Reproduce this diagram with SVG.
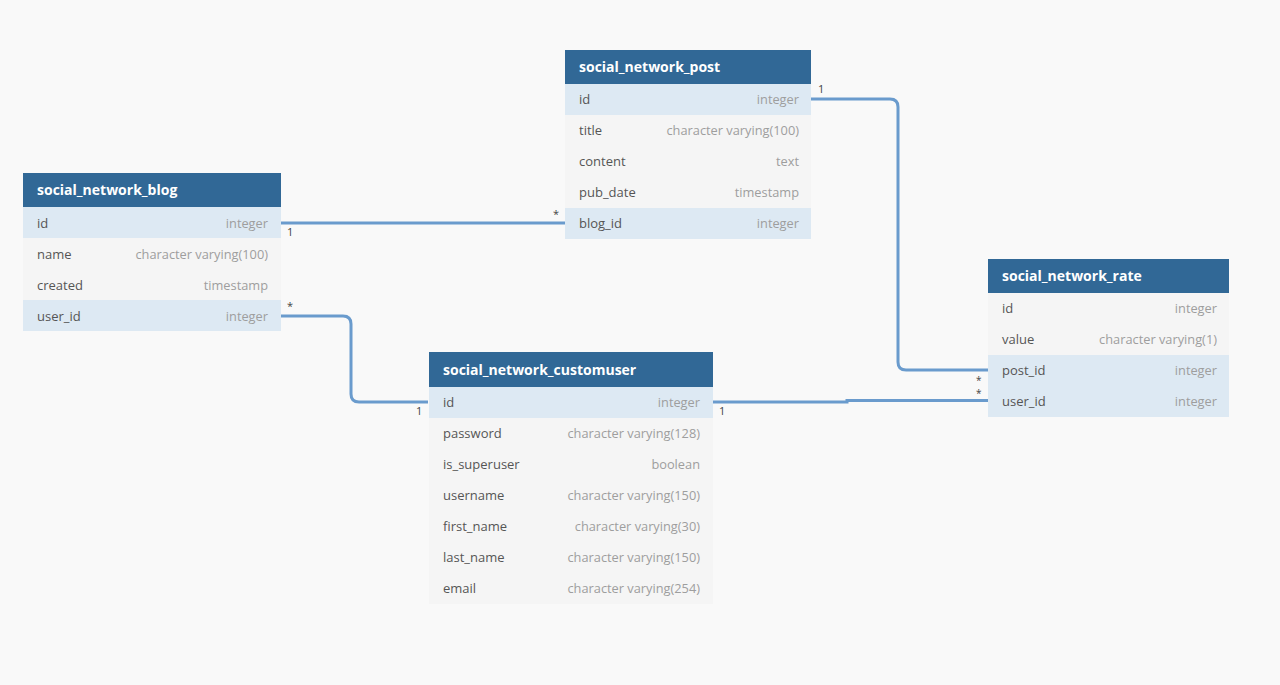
<svg xmlns="http://www.w3.org/2000/svg" width="1280" height="685" viewBox="0 0 1280 685">
<style>
.bg{fill:#f9f9f9}
.hdr{fill:#316896}
.row{fill:#f5f5f5}
.key{fill:#dde9f3}
.ht{font-family:"Open Sans","Liberation Sans",sans-serif;font-size:14px;font-weight:bold;fill:#ffffff}
.fn{font-family:"Open Sans","Liberation Sans",sans-serif;font-size:13px;fill:#555555}
.ft{font-family:"Open Sans","Liberation Sans",sans-serif;font-size:12.8px;fill:#9e9e9e;text-anchor:end}
.ln{fill:none;stroke:#6a9bcd;stroke-width:3}
.lb{font-family:"Open Sans","Liberation Sans",sans-serif;font-size:11px;fill:#444444}
.st{font-family:"Open Sans","Liberation Sans",sans-serif;font-size:10px;fill:#444444}
</style>
<rect class="bg" x="0" y="0" width="1280" height="685"/>
<g id="connectors">
<path class="ln" d="M281 223 H565"/>
<path class="ln" d="M811 99 H890 Q898 99 898 107 V362 Q898 370 906 370 H988"/>
<path class="ln" d="M281 316 H343 Q351 316 351 324 V394 Q351 402 359 402 H428"/>
<path class="ln" d="M713 402 H847 V400.5 H988"/>
<text class="lb" x="287" y="236">1</text>
<text class="lb" x="553" y="218">*</text>
<text class="lb" x="818" y="93">1</text>
<text class="st" x="976" y="384">*</text>
<text class="lb" x="287" y="310">*</text>
<text class="lb" x="416" y="415">1</text>
<text class="lb" x="719" y="415">1</text>
<text class="st" x="976" y="397">*</text>
</g>
<g id="social_network_post">
<rect class="hdr" x="565" y="50" width="246" height="34"/>
<text class="ht" x="579" y="72">social_network_post</text>
<rect class="key" x="565" y="84" width="246" height="31"/>
<rect class="row" x="565" y="115" width="246" height="93"/>
<rect class="key" x="565" y="208" width="246" height="31"/>
<text class="fn" x="579" y="104">id</text><text class="ft" x="799" y="104">integer</text>
<text class="fn" x="579" y="135">title</text><text class="ft" x="799" y="135">character varying(100)</text>
<text class="fn" x="579" y="166">content</text><text class="ft" x="799" y="166">text</text>
<text class="fn" x="579" y="197">pub_date</text><text class="ft" x="799" y="197">timestamp</text>
<text class="fn" x="579" y="228">blog_id</text><text class="ft" x="799" y="228">integer</text>
</g>
<g id="social_network_blog">
<rect class="hdr" x="23" y="173" width="258" height="34"/>
<text class="ht" x="37" y="195">social_network_blog</text>
<rect class="key" x="23" y="207" width="258" height="31"/>
<rect class="row" x="23" y="238" width="258" height="62"/>
<rect class="key" x="23" y="300" width="258" height="31"/>
<text class="fn" x="37" y="228">id</text><text class="ft" x="268" y="228">integer</text>
<text class="fn" x="37" y="259">name</text><text class="ft" x="268" y="259">character varying(100)</text>
<text class="fn" x="37" y="290">created</text><text class="ft" x="268" y="290">timestamp</text>
<text class="fn" x="37" y="321">user_id</text><text class="ft" x="268" y="321">integer</text>
</g>
<g id="social_network_rate">
<rect class="hdr" x="988" y="259" width="241" height="34"/>
<text class="ht" x="1002" y="281">social_network_rate</text>
<rect class="row" x="988" y="293" width="241" height="62"/>
<rect class="key" x="988" y="355" width="241" height="62"/>
<text class="fn" x="1002" y="313">id</text><text class="ft" x="1217" y="313">integer</text>
<text class="fn" x="1002" y="344">value</text><text class="ft" x="1217" y="344">character varying(1)</text>
<text class="fn" x="1002" y="375">post_id</text><text class="ft" x="1217" y="375">integer</text>
<text class="fn" x="1002" y="406">user_id</text><text class="ft" x="1217" y="406">integer</text>
</g>
<g id="social_network_customuser">
<rect class="hdr" x="429" y="352" width="284" height="35"/>
<text class="ht" x="443" y="375">social_network_customuser</text>
<rect class="key" x="429" y="387" width="284" height="31"/>
<rect class="row" x="429" y="418" width="284" height="186"/>
<text class="fn" x="443" y="407">id</text><text class="ft" x="700" y="407">integer</text>
<text class="fn" x="443" y="438">password</text><text class="ft" x="700" y="438">character varying(128)</text>
<text class="fn" x="443" y="469">is_superuser</text><text class="ft" x="700" y="469">boolean</text>
<text class="fn" x="443" y="500">username</text><text class="ft" x="700" y="500">character varying(150)</text>
<text class="fn" x="443" y="531">first_name</text><text class="ft" x="700" y="531">character varying(30)</text>
<text class="fn" x="443" y="562">last_name</text><text class="ft" x="700" y="562">character varying(150)</text>
<text class="fn" x="443" y="593">email</text><text class="ft" x="700" y="593">character varying(254)</text>
</g>
</svg>
